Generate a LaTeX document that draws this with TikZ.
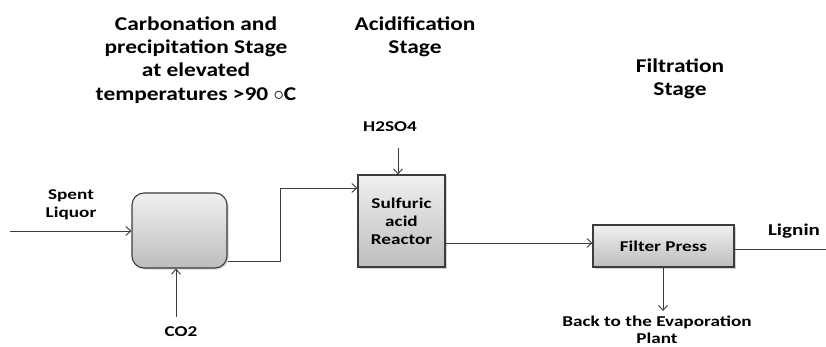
\documentclass[tikz,border=0pt]{standalone}
\usepackage{fontspec}
\setmainfont{Carlito}
\newfontfamily\widetitle[FakeStretch=1.2]{Carlito}
\newfontfamily\widelabel[FakeStretch=1.28]{Carlito}
\usetikzlibrary{arrows.meta,shadows}
\definecolor{edgegrey}{HTML}{3C3C3C}
\definecolor{topgrey}{HTML}{F0F0F0}
\definecolor{botgrey}{HTML}{BDBDBD}
\tikzset{
  x=1pt, y=-1pt,
  unitbox/.style={draw=edgegrey, line width=1.1pt, top color=topgrey, bottom color=botgrey,
    drop shadow={shadow xshift=1.5pt, shadow yshift=-1.5pt, opacity=0.35},
    inner sep=0pt, font=\widelabel\fontsize{15}{18}\selectfont\bfseries, align=center},
  flow/.style={draw=edgegrey, line width=0.9pt},
  flowarrow/.style={flow, -{Straight Barb[length=5pt,width=9pt,line width=0.9pt]}},
  titletext/.style={font=\widetitle\fontsize{19.5}{23.3}\selectfont\bfseries, align=center, text=black},
  smalltext/.style={font=\widelabel\fontsize{15}{18}\selectfont\bfseries, align=center, text=black},
}
\begin{document}
\begin{tikzpicture}
\useasboundingbox (0,0) rectangle (826,347);
% titles
\node[titletext] (t1) at (196,60) {Carbonation and\\precipitation Stage\\at elevated\\temperatures >90 $\circ$C};
\node[titletext] (t2) at (415,37) {Acidification\\Stage};
\node[titletext] (t3) at (680,79) {Filtration\\Stage};
% units
\node[unitbox, rounded corners=12pt, minimum width=95pt, minimum height=75pt] (carb) at (179.5,230.5) {};
\node[unitbox, minimum width=87pt, minimum height=92pt] (reac) at (401.5,221) {Sulfuric\\acid\\Reactor};
\node[unitbox, minimum width=141pt, minimum height=42pt] (filt) at (663.5,246) {Filter Press};
% labels
\node[smalltext] (spent) at (71,205) {Spent\\Liquor};
\node[smalltext] (co2) at (181,332) {CO2};
\node[smalltext] (h2so4) at (390,127) {H2SO4};
\node[smalltext, font=\widelabel\fontsize{16.5}{19}\selectfont\bfseries] (lignin) at (794,231) {Lignin};
\node[smalltext, font=\widelabel\fontsize{15}{16.5}\selectfont\bfseries, inner ysep=1pt] (back) at (657,330) {Back to the Evaporation\\Plant};
% coordinates
\coordinate (spentin) at (10,231);
\coordinate (co2in) at (176,317);
\coordinate (h2in) at (398,148);
\coordinate (backout) at (663,311);
\coordinate (ligout) at (826,249);
% connectors
\draw[flowarrow] (spentin) -- (spentin -| carb.west);
\draw[flowarrow] (co2in) -- (co2in |- carb.south);
\draw[flowarrow] (carb.east |- 0,261) -- (280,261) -- (280,188) -- (reac.west |- 0,188);
\draw[flowarrow] (h2in) -- (h2in |- reac.north);
\draw[flowarrow] (reac.east |- 0,243) -- (filt.west |- 0,243);
\draw[flowarrow] (filt.south -| backout) -- (backout);
\draw[flow] (filt.east |- ligout) -- (ligout);
\end{tikzpicture}
\end{document}
